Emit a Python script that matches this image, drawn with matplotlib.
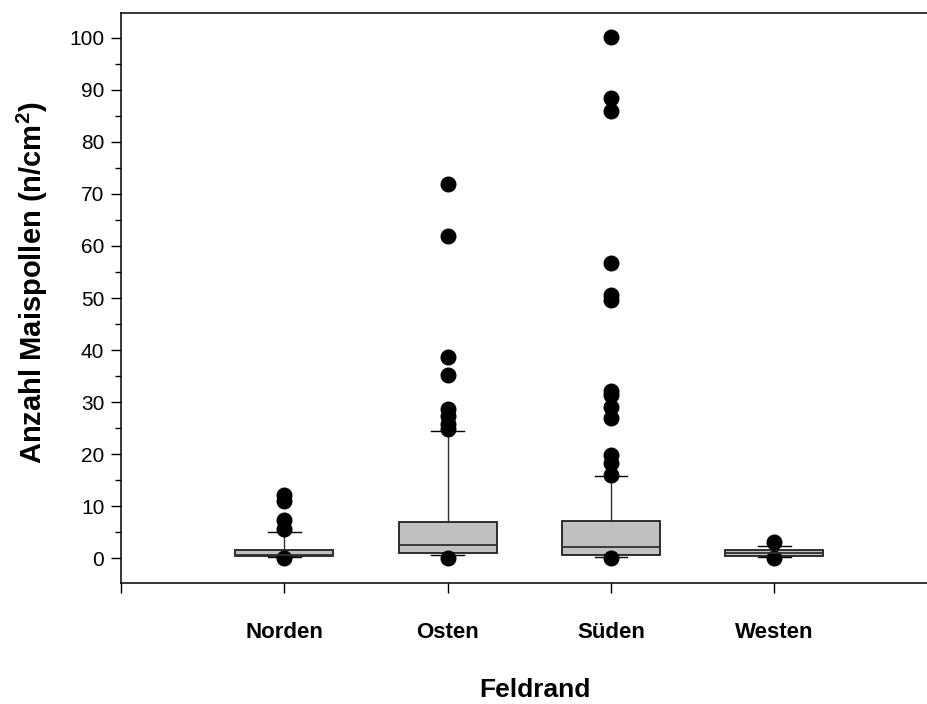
import matplotlib
matplotlib.use("Agg")
import matplotlib.pyplot as plt
from matplotlib.ticker import MultipleLocator

plt.rcParams['font.family'] = ['Liberation Sans', 'DejaVu Sans']
plt.rcParams['mathtext.fontset'] = 'custom'
plt.rcParams['mathtext.rm'] = 'Liberation Sans'
plt.rcParams['mathtext.bf'] = 'Liberation Sans:bold'

# Pollen counts per field edge (n/cm²)
categories = ['Norden', 'Osten', 'Süden', 'Westen']
q1 = [0.33, 1.0, 0.65, 0.3]
median = [0.5, 2.6, 2.2, 1.0]
q3 = [1.6, 6.9, 7.2, 1.5]
whisker_low = [0.13, 0.6, 0.23, 0.2]
whisker_high = [5.1, 24.5, 15.8, 2.25]
outliers = [
    [12.1, 10.9, 7.3, 5.5, 0.0],
    [71.9, 61.9, 38.7, 35.1, 28.6, 27.4, 25.8, 24.8, 0.0],
    [100.2, 88.4, 86.0, 56.7, 50.6, 49.6, 32.1, 31.4, 29.0, 27.0, 19.8, 18.3, 16.0, 0.0],
    [3.0, 0.0],
]

stats = []
for i, name in enumerate(categories):
    stats.append(dict(label=name, q1=q1[i], med=median[i], q3=q3[i],
                      whislo=whisker_low[i], whishi=whisker_high[i],
                      fliers=outliers[i]))

fig = plt.figure(figsize=(9.28, 7.04), dpi=100)
ax = fig.add_axes([121 / 928, 121 / 704, 1 - 121 / 928, 570 / 704])

ax.bxp(stats, positions=[1, 2, 3, 4], widths=0.6, patch_artist=True,
       boxprops=dict(facecolor='#c0c0c0', edgecolor='#202020', linewidth=1.3),
       medianprops=dict(color='#303030', linewidth=1.3),
       whiskerprops=dict(color='#303030', linewidth=1.0),
       capprops=dict(color='black', linewidth=1.0),
       capwidths=0.2,
       flierprops=dict(marker='o', markerfacecolor='black', markeredgecolor='black',
                       markersize=10.5, linestyle='none'))

ax.set_xlim(0, 807 / 163.3)
ax.set_ylim(-4.8, 104.8)

ax.yaxis.set_major_locator(MultipleLocator(10))
ax.yaxis.set_minor_locator(MultipleLocator(5))
ax.set_xticks([0, 1, 2, 3, 4])
ax.set_xticklabels([''] + categories, fontweight='bold', fontsize=16)

ax.tick_params(axis='y', which='major', direction='out', length=7, width=1.0,
               labelsize=15, pad=5)
ax.tick_params(axis='y', which='minor', direction='out', length=4, width=1.0)
ax.tick_params(axis='x', which='major', direction='out', length=7, width=1.0, pad=21)

ax.spines['right'].set_visible(False)
for side in ('left', 'top', 'bottom'):
    ax.spines[side].set_linewidth(1.1)

ax.set_xlabel('Feldrand', fontsize=19, fontweight='bold')
ax.xaxis.set_label_coords(414 / 807, -(678 - 583) / 570)
ax.set_ylabel(r'Anzahl Maispollen (n/cm$^{\mathbf{2}}$)', fontsize=21,
              fontweight='bold')
ax.yaxis.set_label_coords(-(121 - 50) / 807, (583 - 283) / 570)

fig.savefig('out.png', dpi=100)
